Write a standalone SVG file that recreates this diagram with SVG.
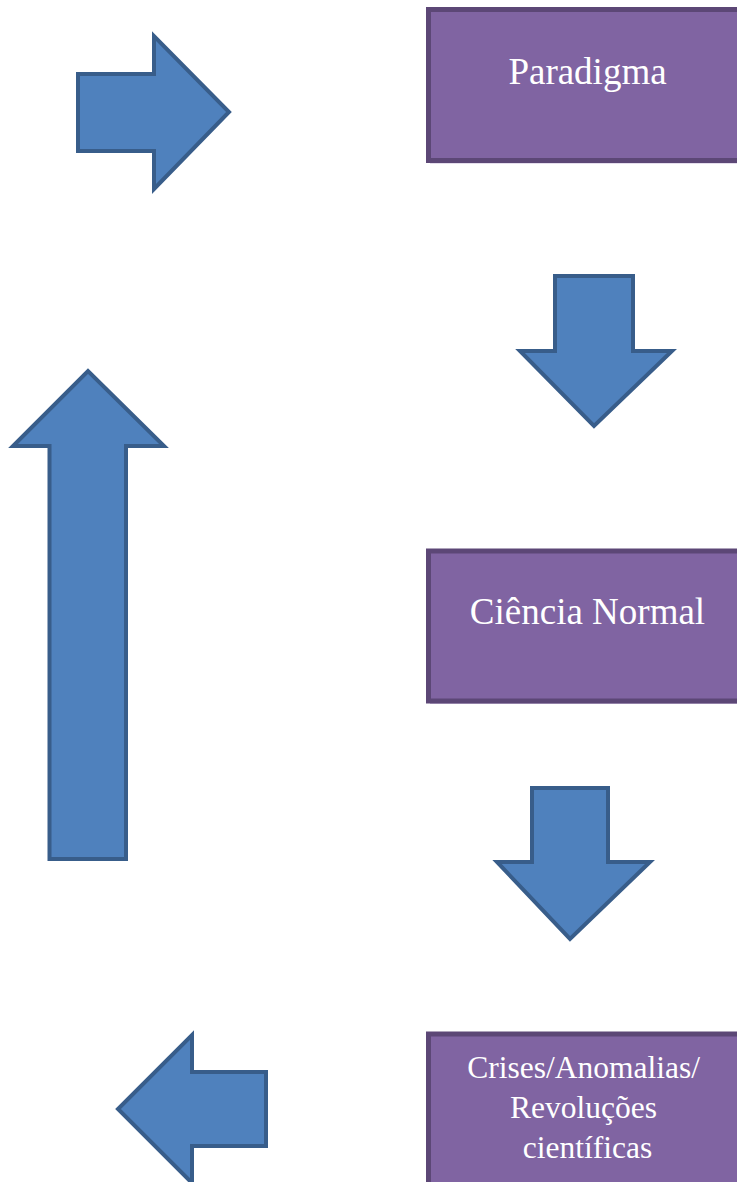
<svg xmlns="http://www.w3.org/2000/svg" width="737" height="1182" viewBox="0 0 737 1182">
  <style>
    .arrow { fill: #4f81bd; stroke: #385d8a; stroke-width: 4; stroke-linejoin: miter; }
    .box { fill: #8064a2; stroke: #5c4776; stroke-width: 5; }
    .shadow { fill: #c9bcd9; }
    .label { fill: #ffffff; font-family: "Liberation Serif", "Times New Roman", serif; text-anchor: middle; }
  </style>
  <rect width="737" height="1182" fill="#ffffff"/>
  <g id="connectors">
    <polygon id="arrow-right" class="arrow" points="78,74 154,74 154,36 229,112 154,189 154,151 78,151"/>
    <polygon id="arrow-down-1" class="arrow" points="555,276 633,276 633,351 672,351 594,426 520,351 555,351"/>
    <polygon id="arrow-down-2" class="arrow" points="532,788 608,788 608,862 650,862 570,939 497,862 532,862"/>
    <polygon id="arrow-left" class="arrow" points="266,1072 266,1146 192,1146 192,1183 118,1109 192,1035 192,1072"/>
    <polygon id="arrow-up" class="arrow" points="49.5,859 49.5,446 13,446 88,371 164,446 126,446 126,859"/>
  </g>
  <g id="node-paradigma">
    <rect class="shadow" x="430" y="12" width="320" height="151.5"/>
    <rect class="box" x="428.5" y="9.5" width="320" height="151"/>
    <text class="label" x="587.5" y="84" font-size="37">Paradigma</text>
  </g>
  <g id="node-ciencia-normal">
    <rect class="shadow" x="430" y="553.5" width="320" height="150.5"/>
    <rect class="box" x="428.5" y="551" width="320" height="150"/>
    <text class="label" x="587.5" y="624" font-size="37">Ciência Normal</text>
  </g>
  <g id="node-crises">
    <rect class="box" x="428.5" y="1034" width="320" height="160"/>
    <text class="label" font-size="31.5">
      <tspan x="587.5" y="1078">Crises/Anomalias/</tspan>
      <tspan x="587.5" y="1118">Revoluções</tspan>
      <tspan x="587.5" y="1158">científicas</tspan>
    </text>
  </g>
</svg>
